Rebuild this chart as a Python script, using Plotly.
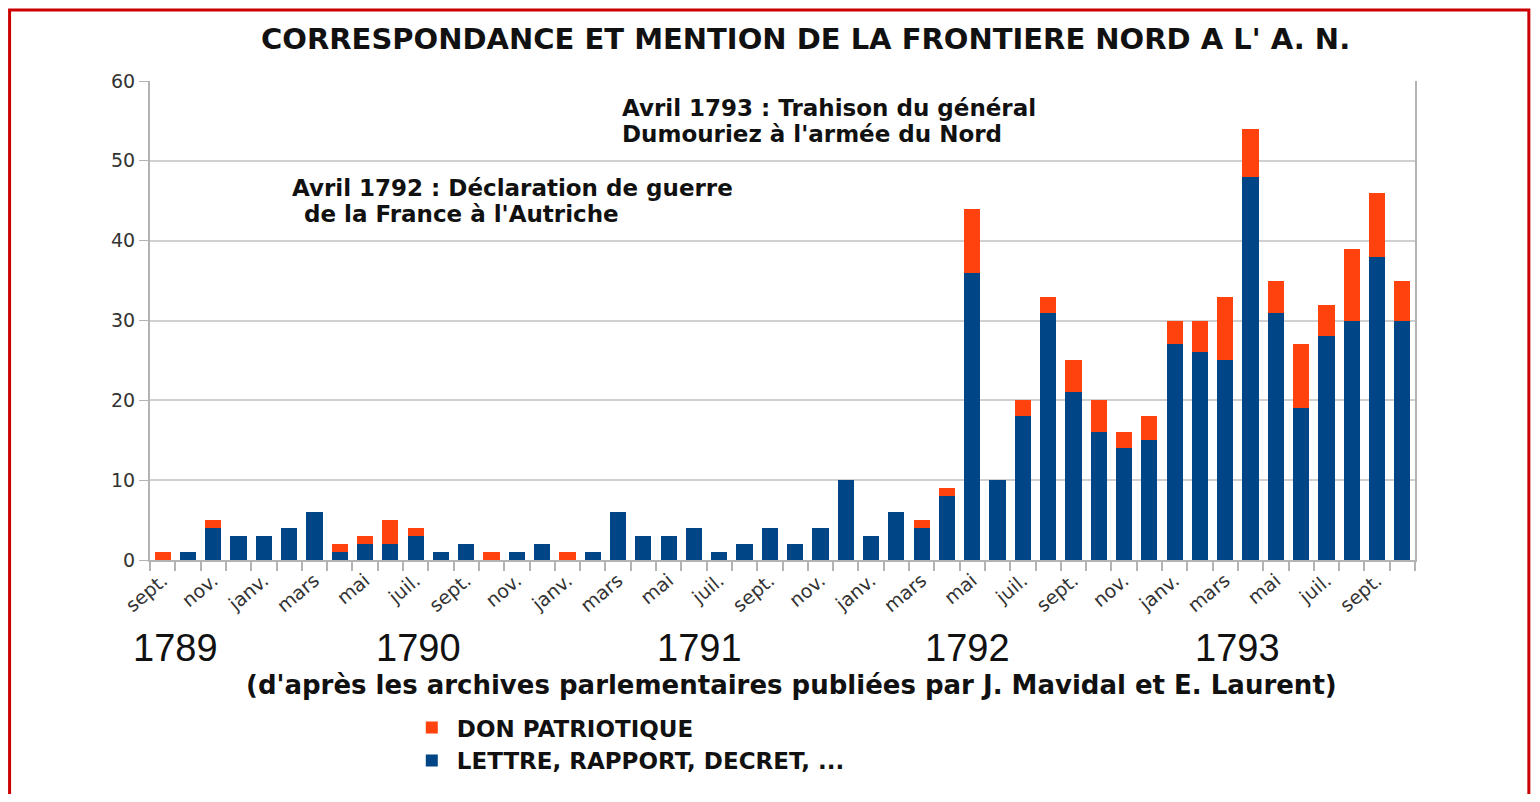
import plotly.graph_objects as go

# months from sept. 1789 to oct. 1793
month_names = ["janv.", "févr.", "mars", "avr.", "mai", "juin",
               "juil.", "août", "sept.", "oct.", "nov.", "déc."]
months = [(y, m) for y in range(1789, 1794) for m in range(12)][8:58]
month_labels = [month_names[m] for _, m in months]

lettre = [0, 1, 4, 3, 3, 4, 6, 1, 2, 2, 3, 1, 2, 0, 1, 2, 0, 1, 6, 3,
          3, 4, 1, 2, 4, 2, 4, 10, 3, 6, 4, 8, 36, 10, 18, 31, 21, 16, 14, 15,
          27, 26, 25, 48, 31, 19, 28, 30, 38, 30]
don = [1, 0, 1, 0, 0, 0, 0, 1, 1, 3, 1, 0, 0, 1, 0, 0, 1, 0, 0, 0,
       0, 0, 0, 0, 0, 0, 0, 0, 0, 0, 1, 1, 8, 0, 2, 2, 4, 4, 2, 3,
       3, 4, 8, 6, 4, 8, 4, 9, 8, 5]

years = ["1789", "1790", "1791", "1792", "1793"]
year_pos = [0.5, 10.1, 21.2, 31.8, 42.5]

BLUE = "#004586"
ORANGE = "#ff420e"
BOLD = "DejaVu Sans, Verdana, sans-serif"

x = list(range(len(months)))

fig = go.Figure()
fig.add_bar(x=x, y=lettre, name="<b>LETTRE, RAPPORT, DECRET, ...</b>",
            marker=dict(color=BLUE, line=dict(width=0)))
fig.add_bar(x=x, y=don, name="<b>DON PATRIOTIQUE</b>",
            marker=dict(color=ORANGE, line=dict(width=0)))

fig.update_layout(
    barmode="stack",
    bargap=0.36,
    plot_bgcolor="white",
    paper_bgcolor="white",
    margin=dict(l=142, r=117, t=73, b=224),
    legend=dict(x=0.203, y=-0.305, xanchor="left", yanchor="top",
                traceorder="reversed", bgcolor="rgba(0,0,0,0)",
                font=dict(family=BOLD, size=23, color="#111"),
                itemwidth=40, tracegroupgap=0),
    font=dict(family="DejaVu Sans, sans-serif"),
)

fig.update_xaxes(
    range=[-0.5, len(months) - 0.5],
    tickmode="array", tickvals=x[::2], ticktext=month_labels[::2],
    tickangle=-40, ticks="", showgrid=False,
    tickfont=dict(size=19, color="#333"),
    showline=True, linecolor="#b3b3b3", linewidth=2,
    minor=dict(tickmode="linear", tick0=-0.5, dtick=1, ticks="outside",
               ticklen=9, tickcolor="#b3b3b3", tickwidth=2, showgrid=False),
)
fig.update_yaxes(
    range=[0, 60], dtick=10, gridcolor="#d0d0d0", gridwidth=1.5,
    showline=True, linecolor="#b3b3b3", linewidth=2, mirror=True,
    ticks="outside", ticklen=9, tickcolor="#b3b3b3",
    tickfont=dict(size=19, color="#333"), zeroline=False,
)

# red frame round the page
fig.add_shape(type="rect", xref="paper", yref="paper", layer="below",
              x0=-0.111, x1=1.09, y0=-0.5, y1=1.148,
              fillcolor="white", line=dict(color="#cc0000", width=3))

fig.add_annotation(x=0.518, y=1.088, xref="paper", yref="paper",
                   text="<b>CORRESPONDANCE ET MENTION DE LA FRONTIERE NORD A L' A. N.</b>",
                   showarrow=False, xanchor="center", yanchor="middle",
                   font=dict(family=BOLD, size=29, color="#111"))

for yr, pos in zip(years, year_pos):
    fig.add_annotation(x=pos, y=-0.184, xref="x", yref="paper", text=yr,
                       showarrow=False, yanchor="middle",
                       font=dict(family="Liberation Sans Narrow, Arial Narrow, sans-serif",
                                 size=38, color="#111"))

fig.add_annotation(x=0.507, y=-0.262, xref="paper", yref="paper",
                   text="<b>(d'après les archives parlementaires publiées par J. Mavidal et E. Laurent)</b>",
                   showarrow=False, yanchor="middle", xanchor="center",
                   font=dict(family=BOLD, size=26, color="#111"))

notes = [
    ("Avril 1793 : Trahison du général", 0.3715, 0.944),
    ("Dumouriez à l'armée du Nord", 0.3715, 0.889),
    ("Avril 1792 : Déclaration de guerre", 0.1107, 0.777),
    ("de la France à l'Autriche", 0.1202, 0.722),
]
for txt, nx, ny in notes:
    fig.add_annotation(x=nx, y=ny, xref="paper", yref="paper", xanchor="left",
                       yanchor="middle", showarrow=False, text=f"<b>{txt}</b>",
                       font=dict(family=BOLD, size=23, color="#111"))

fig.write_html("out.html")
